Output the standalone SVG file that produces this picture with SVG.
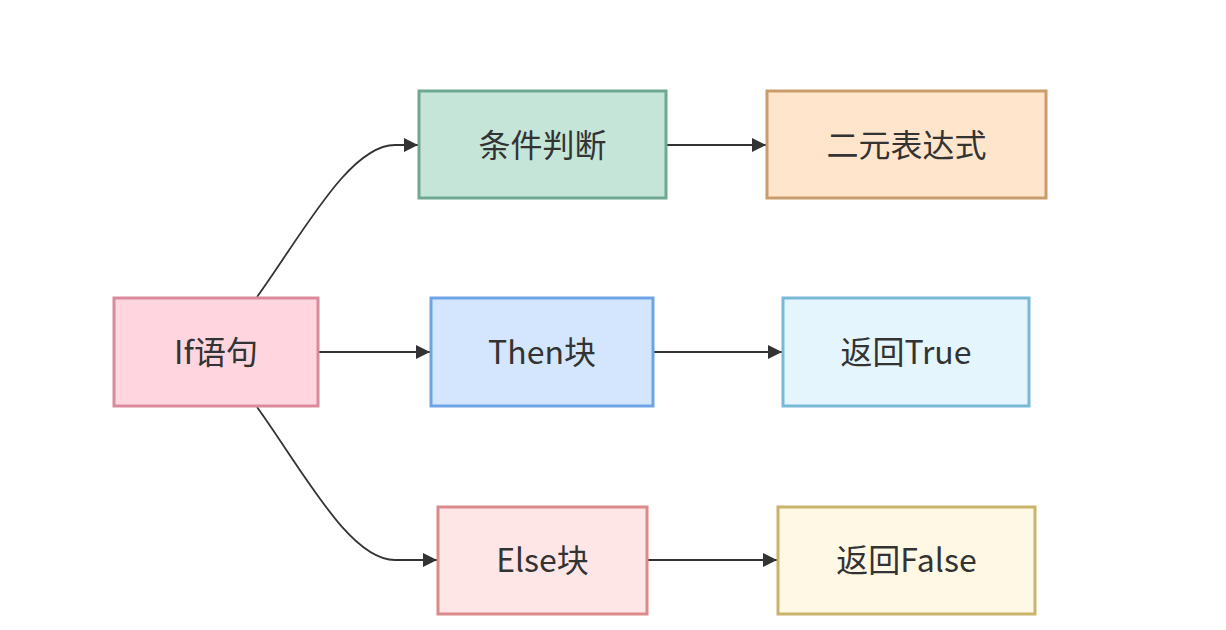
<svg xmlns="http://www.w3.org/2000/svg" width="1226" height="630" viewBox="0 0 1226 630">
<style>
.n rect{stroke-width:3}
.n text{font-family:"Noto Sans CJK SC","Noto Sans",sans-serif;font-size:32px;fill:#333;text-anchor:middle;dominant-baseline:central}
.e path{fill:none;stroke:#333;stroke-width:1.8}
</style>
<defs>
<marker id="ah" viewBox="0 0 14 14" refX="14" refY="7" markerWidth="14" markerHeight="14" markerUnits="userSpaceOnUse" orient="auto">
<path d="M0,0 L14,7 L0,14 Z" fill="#333"/>
</marker>
</defs>
<rect width="1226" height="630" fill="#fff"/>
<g id="edges" class="e">
<path d="M257,297 C305,230 350,145 395,145 L418,145" marker-end="url(#ah)"/>
<path d="M319,352 L430,352" marker-end="url(#ah)"/>
<path d="M257,407 C305,474 350,560 395,560 L437,560" marker-end="url(#ah)"/>
<path d="M667,145 L766,145" marker-end="url(#ah)"/>
<path d="M654,352 L782,352" marker-end="url(#ah)"/>
<path d="M648,560 L777,560" marker-end="url(#ah)"/>
</g>
<g id="if" class="n"><rect x="114" y="298" width="204" height="108" fill="#ffd5df" stroke="#db8a9c"/><text x="216" y="350">If语句</text></g>
<g id="cond" class="n"><rect x="419" y="91" width="247" height="107" fill="#c5e5d8" stroke="#6fa890"/><text x="542.5" y="143">条件判断</text></g>
<g id="binexp" class="n"><rect x="767" y="91" width="279" height="107" fill="#ffe5cb" stroke="#c99c6c"/><text x="906.5" y="143">二元表达式</text></g>
<g id="then" class="n"><rect x="431" y="298" width="222" height="108" fill="#d4e6fd" stroke="#6fa4e4"/><text x="542" y="350">Then块</text></g>
<g id="rettrue" class="n"><rect x="783" y="298" width="246" height="108" fill="#e4f5fe" stroke="#7ab8d8"/><text x="906" y="350">返回True</text></g>
<g id="else" class="n"><rect x="438" y="507" width="209" height="107" fill="#ffe6e6" stroke="#d98a8a"/><text x="542.5" y="558">Else块</text></g>
<g id="retfalse" class="n"><rect x="778" y="507" width="257" height="107" fill="#fff8e4" stroke="#c9b46b"/><text x="906.5" y="558">返回False</text></g>
</svg>
